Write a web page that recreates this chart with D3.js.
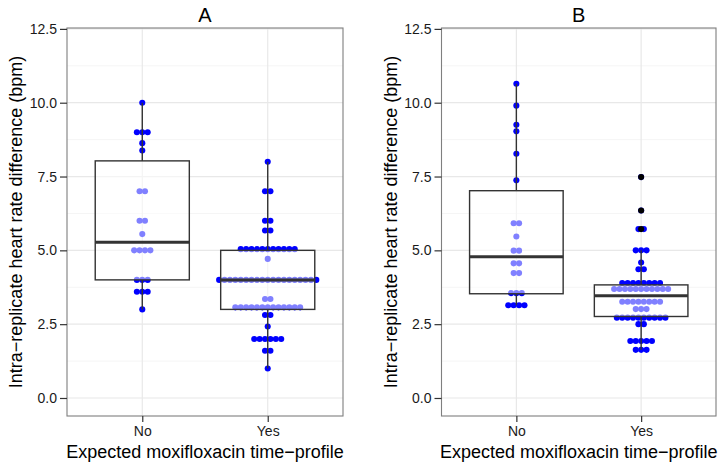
<!DOCTYPE html>
<html>
<head>
<meta charset="utf-8">
<script src="https://cdn.jsdelivr.net/npm/d3@7"></script>
<style>
  body { margin: 0; background: #fff; }
  svg { display: block; font-family: "Liberation Sans", Arial, Helvetica, sans-serif; }
</style>
</head>
<body>
<svg id="chart" width="720" height="463"></svg>
<script>
// ---- data ----
const groups = ["No", "Yes"];
const panelTitles = ["A", "B"];
const yTicks = [0, 2.5, 5, 7.5, 10, 12.5];
const yMinorTicks = [1.25, 3.75, 6.25, 8.75, 11.25];

// individual observations (one dot each)
const aNo  = [10.0, 9.0, 9.0, 9.0, 8.63, 8.38, 7.0, 7.0, 6.0, 6.0, 5.55,
              5.0, 5.0, 5.0, 5.0, 4.0, 4.0, 4.0, 3.6, 3.6, 3.6, 3.0];
const aYes = [8.0, 7.0, 7.0, 6.0, 6.0, 5.67, 5.67,
              5.04, 5.04, 5.04, 5.04, 5.04, 5.04, 5.04, 5.04, 5.04, 5.04, 5.04,
              4.71,
              4.0, 4.0, 4.0, 4.0, 4.0, 4.0, 4.0, 4.0, 4.0, 4.0, 4.0, 4.0, 4.0, 4.0, 4.0, 4.0, 4.0, 4.0, 4.0,
              3.35, 3.35,
              3.07, 3.07, 3.07, 3.07, 3.07, 3.07, 3.07, 3.07, 3.07, 3.07, 3.07, 3.07, 3.07,
              2.81, 2.81, 2.42,
              2.0, 2.0, 2.0, 2.0, 2.0, 2.0,
              1.6, 1.6, 1.0];
const bNo  = [10.64, 9.9, 9.25, 9.03, 8.27, 7.37, 5.92, 5.92, 5.47, 4.99, 4.99,
              4.56, 4.56, 4.23, 4.23, 3.55, 3.55, 3.55, 3.14, 3.14, 3.14, 3.14];
const bYes = [7.48, 6.35, 5.72, 5.72, 5.0, 5.0, 5.0, 4.59, 4.36, 4.36,
              3.89, 3.89, 3.89, 3.89, 3.89, 3.89, 3.89, 3.89,
              3.69, 3.69, 3.69, 3.69, 3.69, 3.69, 3.69, 3.69, 3.69, 3.69, 3.69,
              3.26, 3.26, 3.26, 3.26, 3.26, 3.26, 3.26, 3.26,
              3.01, 3.01, 3.01,
              2.72, 2.72, 2.72, 2.72, 2.72, 2.72, 2.72, 2.72, 2.72, 2.72,
              2.5, 2.5,
              1.93, 1.93, 1.93, 1.93, 1.93,
              1.63, 1.63, 1.63];

// box statistics [lower whisker, Q1, median, Q3, upper whisker]
const aNoBox  = [3.0, 4.0, 5.27, 8.03, 10.0];
const aYesBox = [1.0, 3.0, 4.0, 5.0, 8.0];
const bNoBox  = [3.14, 3.53, 4.78, 7.02, 10.64];
const bYesBox = [1.63, 2.76, 3.46, 3.83, 5.0];
const bYesOutliers = [5.72, 6.35, 7.48];

const yTitle = "Intra\u2212replicate heart rate difference (bpm)";
const xTitle = "Expected moxifloxacin time\u2212profile";

// ---- layout ----
const svg = d3.select("#chart");
const pTop = 28, pBottom = 416;
const panels = [
  { title: panelTitles[0], left: 67, right: 343, data: [aNo, aYes], boxes: [aNoBox, aYesBox], outliers: [[], []] },
  { title: panelTitles[1], left: 441.5, right: 716, data: [bNo, bYes], boxes: [bNoBox, bYesBox], outliers: [[], bYesOutliers] }
];

const y = d3.scaleLinear().domain([-0.61, 12.53]).range([pBottom, pTop]);
const dotD = 5.4, dotR = 3.05;

panels.forEach(p => {
  const x = d3.scalePoint().domain(groups).range([p.left, p.right]).padding(0.6);
  const step = x.step();
  const g = svg.append("g");

  // panel background & grid
  g.append("rect").attr("x", p.left).attr("y", pTop).attr("width", p.right - p.left)
    .attr("height", pBottom - pTop).attr("fill", "#fff");
  g.selectAll(".minor").data(yMinorTicks).enter().append("line")
    .attr("x1", p.left).attr("x2", p.right)
    .attr("y1", d => y(d)).attr("y2", d => y(d))
    .attr("stroke", "#f5f5f5").attr("stroke-width", 1);
  g.selectAll(".major").data(yTicks).enter().append("line")
    .attr("x1", p.left).attr("x2", p.right)
    .attr("y1", d => y(d)).attr("y2", d => y(d))
    .attr("stroke", "#e8e8e8").attr("stroke-width", 1.2);
  g.selectAll(".vmajor").data(groups).enter().append("line")
    .attr("x1", d => x(d)).attr("x2", d => x(d))
    .attr("y1", pTop).attr("y2", pBottom)
    .attr("stroke", "#e8e8e8").attr("stroke-width", 1.2);

  // dots (centered stacking)
  groups.forEach((grp, gi) => {
    const rows = d3.groups(p.data[gi], v => v);
    rows.forEach(([val, arr]) => {
      const n = arr.length;
      arr.forEach((v, i) => {
        g.append("circle")
          .attr("cx", x(grp) + (i - (n - 1) / 2) * dotD)
          .attr("cy", y(v))
          .attr("r", dotR)
          .attr("fill", "#0000ff");
      });
    });
  });

  // boxplots
  groups.forEach((grp, gi) => {
    const b = p.boxes[gi];
    const cx = x(grp), bw = step * 0.75;
    g.append("line").attr("x1", cx).attr("x2", cx).attr("y1", y(b[3])).attr("y2", y(b[4]))
      .attr("stroke", "#333").attr("stroke-width", 1.4);
    g.append("line").attr("x1", cx).attr("x2", cx).attr("y1", y(b[0])).attr("y2", y(b[1]))
      .attr("stroke", "#333").attr("stroke-width", 1.4);
    g.append("rect").attr("x", cx - bw / 2).attr("y", y(b[3]))
      .attr("width", bw).attr("height", y(b[1]) - y(b[3]))
      .attr("fill", "#fff").attr("fill-opacity", 0.5)
      .attr("stroke", "#333").attr("stroke-width", 1.4);
    g.append("line").attr("x1", cx - bw / 2).attr("x2", cx + bw / 2)
      .attr("y1", y(b[2])).attr("y2", y(b[2]))
      .attr("stroke", "#333").attr("stroke-width", 3);
    g.selectAll(null).data(p.outliers[gi]).enter().append("circle")
      .attr("cx", cx).attr("cy", d => y(d)).attr("r", dotR).attr("fill", "#000");
  });

  // panel border
  g.append("rect").attr("x", p.left).attr("y", pTop).attr("width", p.right - p.left)
    .attr("height", pBottom - pTop).attr("fill", "none").attr("stroke", "#7f7f7f").attr("stroke-width", 1.1);

  // axes
  const ya = g.append("g").attr("transform", `translate(${p.left},0)`)
    .call(d3.axisLeft(y).tickValues(yTicks).tickFormat(d3.format(".1f")).tickSize(7).tickPadding(3));
  ya.select(".domain").remove();
  ya.selectAll("line").attr("stroke", "#333").attr("stroke-width", 1.2);
  ya.selectAll("text").attr("font-size", 14).attr("fill", "#1a1a1a")
    .attr("font-family", "Liberation Sans, Arial, sans-serif");

  const xa = g.append("g").attr("transform", `translate(0,${pBottom})`)
    .call(d3.axisBottom(x).tickSize(6).tickPadding(4));
  xa.select(".domain").remove();
  xa.selectAll("line").attr("stroke", "#333").attr("stroke-width", 1.2);
  xa.selectAll("text").attr("font-size", 14).attr("fill", "#1a1a1a")
    .attr("font-family", "Liberation Sans, Arial, sans-serif");

  // titles
  const mid = (p.left + p.right) / 2;
  g.append("text").attr("x", mid).attr("y", 22).attr("text-anchor", "middle")
    .attr("font-size", 20).attr("fill", "#000").text(p.title);
  g.append("text").attr("x", mid).attr("y", 457.5).attr("text-anchor", "middle")
    .attr("font-size", 18).attr("fill", "#000").text(xTitle);
  g.append("text")
    .attr("transform", `translate(${p.left - 45},${(pTop + pBottom) / 2}) rotate(-90)`)
    .attr("text-anchor", "middle").attr("font-size", 18).attr("fill", "#000").text(yTitle);
});
</script>
</body>
</html>
